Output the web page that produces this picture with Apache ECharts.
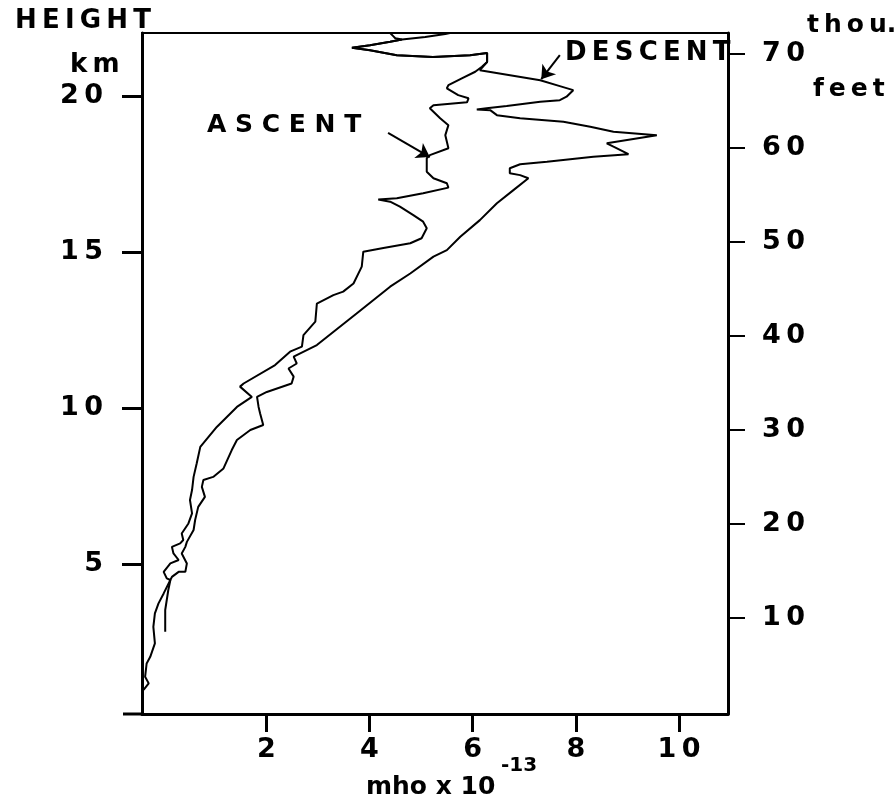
<!DOCTYPE html>
<html>
<head>
<meta charset="utf-8">
<script src="https://cdn.jsdelivr.net/npm/echarts@6/dist/echarts.min.js"></script>
<style>
html,body{margin:0;padding:0;background:#fff;}
#chart{width:896px;height:802px;}
</style>
</head>
<body>
<div id="chart"></div>
<script>
// ---- data ----
// conductivity (mho x 1e-13) and height (km)
const ascentX = [-0.38,-0.35,-0.28,-0.35,-0.32,-0.25,-0.16,-0.19,-0.16,-0.09,
  0.01,0.14,0.07,0.01,0.14,0.30,0.20,0.17,0.33,0.39,
  0.36,0.49,0.56,0.52,0.56,0.59,0.65,0.72,1.04,1.43,
  1.72,1.49,1.56,2.17,2.46,2.69,2.72,2.95,2.98,3.30,
  3.49,3.69,3.85,3.88,4.27,4.79,5.01,5.11,5.04,4.85,
  4.59,4.40,4.17,4.53,5.04,5.53,5.50,5.24,5.11,5.11,
  5.17,5.53,5.50,5.47,5.53,5.37,5.17,5.24,5.89,5.92,
  5.72,5.50,5.53,5.79,6.05,6.18,6.28,6.28,5.95,5.23,
  4.53,4.01,3.66,4.01,4.40,4.63,5.08,5.47,5.56];
const ascentY = [0.98,1.03,1.19,1.40,1.83,2.04,2.47,3.00,3.43,3.75,
  4.07,4.50,4.55,4.76,5.03,5.14,5.35,5.56,5.67,5.78,
  5.99,6.31,6.63,7.06,7.38,7.80,8.23,8.76,9.40,10.04,
  10.36,10.69,10.79,11.38,11.81,11.97,12.34,12.77,13.35,13.62,
  13.73,13.99,14.53,15.01,15.13,15.28,15.44,15.76,15.97,16.18,
  16.45,16.61,16.68,16.72,16.88,17.06,17.20,17.36,17.57,18.00,
  18.10,18.32,18.53,18.74,19.06,19.28,19.60,19.70,19.79,19.92,
  20.02,20.24,20.34,20.56,20.77,20.93,21.08,21.37,21.30,21.24,
  21.30,21.46,21.54,21.62,21.73,21.80,21.88,21.98,22.01];
const descentX = [4.40,4.46,4.50,4.63,4.40,4.01,3.66,4.01,4.53,5.23,
  5.95,6.28,6.28,6.14,7.31,7.69,7.95,7.82,7.69,7.31,
  6.66,6.27,6.08,6.34,6.47,6.92,7.76,8.28,8.73,9.57,
  8.60,8.73,9.02,8.34,7.44,6.92,6.72,6.72,6.92,7.08,
  6.79,6.47,6.14,5.76,5.50,5.24,4.79,4.40,3.75,2.98,
  2.53,2.59,2.43,2.53,2.49,2.01,1.82,1.85,1.88,1.94,
  1.69,1.43,1.33,1.17,0.97,0.78,0.75,0.81,0.68,0.62,
  0.59,0.46,0.43,0.36,0.46,0.43,0.30,0.17,0.14,0.10,
  0.04,0.04];
const descentY = [22.01,21.91,21.84,21.80,21.73,21.62,21.54,21.46,21.30,21.24,
  21.30,21.37,21.08,20.82,20.50,20.31,20.18,19.97,19.86,19.81,
  19.67,19.60,19.56,19.54,19.38,19.28,19.17,19.01,18.85,18.74,
  18.48,18.37,18.13,18.05,17.89,17.81,17.68,17.52,17.46,17.36,
  16.98,16.56,16.02,15.49,15.06,14.85,14.31,13.89,13.03,12.02,
  11.65,11.43,11.27,11.01,10.79,10.52,10.36,10.04,9.83,9.46,
  9.30,8.98,8.66,8.07,7.80,7.70,7.48,7.16,6.84,6.42,
  6.10,5.72,5.56,5.35,5.03,4.76,4.76,4.60,4.50,4.18,
  3.54,2.84];
const xTicks = [2, 4, 6, 8, 10];
const kmTicks = [5, 10, 15, 20];
const feetTicks = [10, 20, 30, 40, 50, 60, 70];
const ascentArrow = [[4.36, 18.81], [5.17, 18.04]];
const descentArrow = [[7.69, 21.30], [7.33, 20.53]];

// ---- chart ----
const FONT = '"DejaVu Sans", sans-serif';
const spaced = v => String(v).split('').join('\u2009');
const zip = (xs, ys) => xs.map((x, i) => [x, ys[i]]);

const chart = echarts.init(document.getElementById('chart'), null, {renderer: 'canvas'});
const labelStyle = {color: '#000', fontFamily: FONT, fontSize: 27, fontWeight: 'bold'};

chart.setOption({
  animation: false,
  backgroundColor: '#fff',
  grid: {left: 142, right: 168, top: 33, bottom: 88, show: true, borderColor: '#000', borderWidth: 2, containLabel: false},
  xAxis: {
    type: 'value', min: -0.41, max: 10.95, position: 'bottom',
    splitLine: {show: false},
    axisLine: {show: true, onZero: false, lineStyle: {color: '#000', width: 3}},
    axisTick: {show: true, customValues: xTicks, length: 18, lineStyle: {color: '#000', width: 3}},
    axisLabel: Object.assign({customValues: xTicks, margin: 22, formatter: spaced}, labelStyle)
  },
  yAxis: [{
    type: 'value', min: 0.21, max: 22.01, position: 'left',
    splitLine: {show: false},
    axisLine: {show: true, onZero: false, lineStyle: {color: '#000', width: 3}},
    axisTick: {show: true, customValues: kmTicks, length: 20, lineStyle: {color: '#000', width: 3}},
    axisLabel: Object.assign({customValues: kmTicks, margin: 39, formatter: spaced}, labelStyle)
  }, {
    type: 'value', min: -0.21, max: 72.23, position: 'right',
    splitLine: {show: false},
    axisLine: {show: true, onZero: false, lineStyle: {color: '#000', width: 3}},
    axisTick: {show: true, customValues: feetTicks, length: 17, lineStyle: {color: '#000', width: 2}},
    axisLabel: Object.assign({customValues: feetTicks, margin: 34, formatter: spaced}, labelStyle)
  }],
  series: [{
    name: 'ASCENT', type: 'line', xAxisIndex: 0, yAxisIndex: 0,
    data: zip(ascentX, ascentY), showSymbol: false, symbol: 'none',
    lineStyle: {color: '#000', width: 2}, silent: true, clip: true,
    markLine: {
      silent: true, symbol: ['none', 'arrow'], symbolSize: 13,
      lineStyle: {color: '#000', width: 2, type: 'solid'}, label: {show: false},
      data: [[{coord: ascentArrow[0]}, {coord: ascentArrow[1]}]]
    }
  }, {
    name: 'DESCENT', type: 'line', xAxisIndex: 0, yAxisIndex: 0,
    data: zip(descentX, descentY), showSymbol: false, symbol: 'none',
    lineStyle: {color: '#000', width: 2}, silent: true, clip: true,
    markLine: {
      silent: true, symbol: ['none', 'arrow'], symbolSize: 13,
      lineStyle: {color: '#000', width: 2, type: 'solid'}, label: {show: false},
      data: [[{coord: descentArrow[0]}, {coord: descentArrow[1]}]]
    }
  }],
  graphic: [
    {type: 'line', shape: {x1: 123, y1: 714, x2: 142, y2: 714}, style: {stroke: '#000', lineWidth: 3}},
    {type: 'text', x: 15, y: 21, style: {text: 'H\u2009E\u2009I\u2009G\u2009H\u2009T', font: 'bold 26px ' + FONT, fill: '#000', textAlign: 'left', textVerticalAlign: 'middle'}},
    {type: 'text', x: 70, y: 65, style: {text: 'k\u2009m', font: 'bold 26px ' + FONT, fill: '#000', textAlign: 'left', textVerticalAlign: 'middle'}},
    {type: 'text', x: 807, y: 25, style: {text: 't\u2009h\u2009o\u2009u.', font: 'bold 25px ' + FONT, fill: '#000', textAlign: 'left', textVerticalAlign: 'middle'}},
    {type: 'text', x: 813, y: 89, style: {text: 'f\u2009e\u2009e\u2009t', font: 'bold 25px ' + FONT, fill: '#000', textAlign: 'left', textVerticalAlign: 'middle'}},
    {type: 'text', x: 207, y: 125, style: {text: 'A S C E N T', font: 'bold 25px ' + FONT, fill: '#000', textAlign: 'left', textVerticalAlign: 'middle'}},
    {type: 'text', x: 565, y: 53, style: {text: 'D\u2009E\u2009S\u2009C\u2009E\u2009N\u2009T', font: 'bold 26px ' + FONT, fill: '#000', textAlign: 'left', textVerticalAlign: 'middle'}},
    {type: 'text', x: 366, y: 787, style: {text: 'mho x 10', font: 'bold 25px ' + FONT, fill: '#000', textAlign: 'left', textVerticalAlign: 'middle'}},
    {type: 'text', x: 501, y: 766, style: {text: '-13', font: 'bold 20px ' + FONT, fill: '#000', textAlign: 'left', textVerticalAlign: 'middle'}}
  ]
});
</script>
</body>
</html>
